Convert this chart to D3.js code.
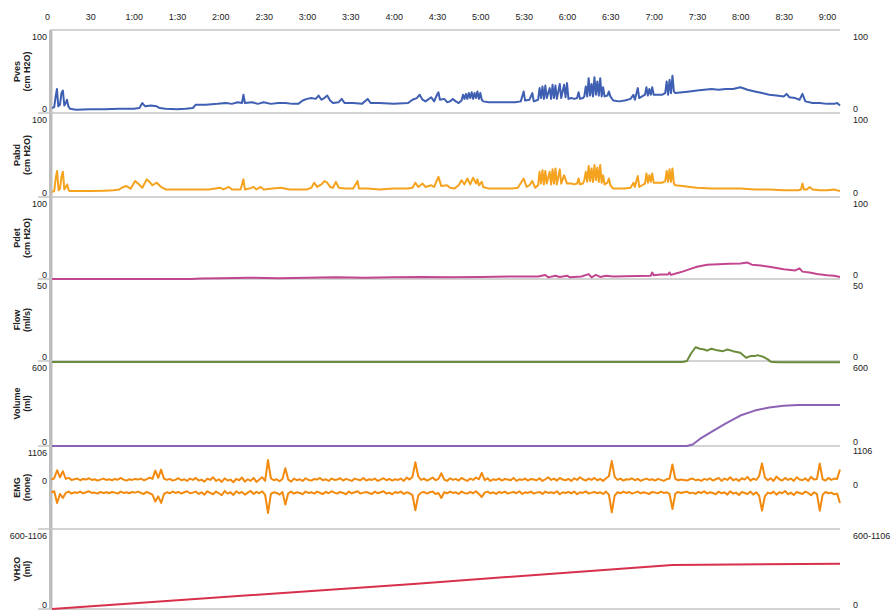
<!DOCTYPE html>
<html>
<head>
<meta charset="utf-8">
<script src="https://cdn.jsdelivr.net/npm/d3@7"></script>
<style>
body { margin: 0; background: #fff; }
text { font-family: "Liberation Sans", Arial, sans-serif; font-size: 9px; fill: #222; }
.title { font-weight: bold; }
</style>
</head>
<body>
<svg></svg>
<script>
// 时间轴 (秒)
var timeTicks = [0, 30, 60, 90, 120, 150, 180, 210, 240, 270, 300, 330, 360, 390, 420, 450, 480, 510, 540]
var tickLabels = ["0", "30", "1:00", "1:30", "2:00", "2:30", "3:00", "3:30", "4:00", "4:30", "5:00", "5:30", "6:00", "6:30", "7:00", "7:30", "8:00", "8:30", "9:00"]

// 通道
var names = ["Pves", "Pabd", "Pdet", "Flow", "Volume", "EMG", "VH2O"]
var units = ["(cm H2O)", "(cm H2O)", "(cm H2O)", "(ml/s)", "(ml)", "(none)", "(ml)"]
var topLabels = ["100", "100", "100", "50", "600", "1106", "600-1106"]
var bottomLabels = ["0", "0", "0", "0", "0", "0", "0"]

// [时间, 数值]
var pves = [[3.5,6],[5,7],[6,20],[6.9,29],[7.8,8],[9,10],[10,24],[11,27],[12,9],[13,12],[13.8,16],[14.8,8],[16,5],[20,4],[30,4.5],[40,4.5],[50,5],[60,5],[64,6],[66,12],[68,8],[72,9],[76,8],[78,6],[82,5],[90,4.5],[96,5],[101,6],[103,10],[110,10],[118,11],[124,12],[128,11],[132,13],[135,12],[136,22],[137,12],[142,13],[146,11],[150,13],[155,11],[160,12],[165,12],[170,11],[174,11],[177,15],[180,17],[183,18],[186,17],[188,21],[190,16],[192,18],[194,21],[196,15],[198,12],[202,13],[204,17],[206,12],[212,12],[218,11],[222,17],[224,12],[230,12],[240,11],[250,12],[253,16],[256,18],[258,22],[260,16],[262,14],[266,19],[268,14],[270,22],[271,25],[272,16],[275,17],[277,13],[279,14],[281,17],[283,14],[285,12],[287,15],[288,22],[289,17],[290,23],[291,17],[292,24],[293,18],[294,25],[295,17],[296,24],[297,18],[298,26],[299,17],[300,24],[301,16],[302,14],[306,13],[312,13],[318,13],[324,13],[328,14],[330,26],[331,15],[334,16],[336,24],[337,14],[340,16],[341,30],[342,18],[343,32],[344,17],[345,33],[346,18],[348,30],[349,17],[350,34],[351,18],[352,33],[353,17],[355,35],[356,18],[358,34],[359,19],[360,36],[361,17],[363,18],[365,17],[367,18],[368,25],[369,17],[371,18],[372,20],[373,32],[374,20],[375,42],[376,21],[377,35],[378,20],[379,43],[380,22],[381,38],[382,21],[383,42],[384,20],[385,31],[386,20],[388,21],[389,26],[390,20],[392,15],[396,14],[400,15],[404,17],[406,22],[407,16],[408,23],[409,30],[410,18],[412,20],[414,22],[415,31],[416,21],[417,29],[418,22],[419,31],[420,22],[423,22],[426,22],[428,24],[429,38],[430,22],[431,40],[432,24],[433,45],[434,26],[435,24],[440,25],[445,26],[450,27],[455,28],[460,29],[465,28],[470,29],[475,29],[480,31],[485,28],[490,26],[495,24],[500,22],[505,21],[510,20],[512,23],[514,19],[518,18],[521,16],[523,23],[525,14],[530,12],[535,12],[540,11],[545,11],[547,12],[549,9]]

var pabd = [[3.5,6],[5,7],[6,22],[7,31],[8,8],[9,10],[10,24],[11,30],[12,9],[13,12],[14,15],[15,8],[16,7],[30,7],[40,7.5],[46,8],[50,9],[53,12],[55,13],[58,10],[61,19],[63,16],[66,11],[69,21],[71,18],[73,14],[76,17],[79,12],[82,9],[90,9],[100,9],[106,9],[112,9],[120,11],[122,9],[126,12],[128,9],[134,9],[136,21],[137,9],[140,10],[143,12],[145,9],[148,12],[150,9],[156,10],[162,11],[168,9],[175,9],[180,9],[183,11],[185,17],[187,12],[190,15],[192,19],[194,17],[196,12],[198,11],[200,18],[202,11],[206,10],[212,10],[215,19],[216,10],[222,10],[230,9],[240,10],[250,10],[253,11],[255,17],[257,12],[260,16],[262,12],[266,14],[268,12],[271,24],[273,13],[277,14],[279,11],[282,10],[285,14],[287,20],[289,15],[291,22],[293,15],[295,23],[297,16],[298,21],[299,14],[301,18],[302,12],[306,10],[316,10],[322,10],[326,11],[330,22],[332,12],[334,14],[336,19],[338,11],[340,14],[341,30],[342,16],[343,32],[344,15],[345,31],[346,16],[348,30],[349,15],[350,33],[351,16],[352,34],[353,15],[355,33],[356,16],[358,26],[360,16],[363,16],[365,15],[367,16],[368,22],[369,15],[371,16],[372,20],[373,30],[374,18],[375,37],[376,19],[377,34],[378,18],[379,38],[380,20],[381,35],[382,18],[383,38],[384,17],[385,26],[386,15],[388,17],[389,22],[390,14],[392,10],[396,10],[400,10],[404,11],[406,17],[407,12],[408,19],[409,25],[410,12],[412,14],[414,16],[415,28],[416,17],[417,26],[418,18],[419,28],[420,17],[423,17],[426,17],[428,19],[429,31],[430,18],[431,33],[432,18],[433,34],[434,16],[435,14],[440,13],[445,12],[450,11],[460,10],[470,10],[480,10],[490,9],[500,9],[510,8],[520,8],[522,9],[523,16],[524,9],[526,9],[528,12],[530,9],[535,8],[540,8],[545,9],[549,7]]

var pdet = [[3.5,0],[50,0],[100,0],[106,0.5],[120,1],[140,1.5],[160,1],[180,1.5],[200,2],[220,1.5],[240,2],[260,2.5],[280,2],[300,2.5],[320,3],[340,3],[345,5],[347,2],[352,4],[355,2.5],[360,4],[362,2],[370,3],[375,6],[377,2],[380,5],[383,2.5],[387,4],[392,3],[400,3.5],[418,4],[419,8],[420,4.5],[425,5.5],[430,5.5],[431,8],[432,5],[436,7],[440,9],[445,12],[450,15],[457,17.5],[465,18],[472,18.5],[480,19],[485,20],[488,17.5],[494,16.5],[500,15],[510,12],[518,10.5],[521,13],[523,9],[528,8],[533,6],[540,4.5],[545,4],[549,2.5]]

var flow = [[3.5,-0.6],[440,-0.6],[443,0],[446,4.7],[449,8.4],[452,7.5],[455,7],[457,6.3],[460,7.5],[464,6.5],[468,6],[471,7],[475,6],[480,5],[484,2],[487,3],[490,3],[492,3.6],[494,3],[496,2.5],[499,1],[501,-0.4],[506,-0.8],[549,-0.8]]

var volume = [[3.5,0],[443,0],[447,10],[452,50],[460,100],[470,160],[480,215],[490,250],[500,272],[510,284],[520,290],[549,290]]

var vh2o = [[3.5,0],[256,190],[433,330],[549,340]]

// EMG: 每2秒一个点, 从3秒开始
var emgHigh = [100,140,380,170,350,120,150,90,110,130,
80,120,100,140,90,110,70,100,130,90,
110,80,120,95,150,100,70,110,90,120,
100,130,80,110,160,120,370,150,400,130,
90,120,70,100,140,80,110,60,130,90,
150,70,100,40,130,90,170,60,110,30,
140,70,100,20,120,80,160,40,110,60,
150,30,100,170,60,685,140,80,110,50,
120,440,100,40,130,80,110,60,140,90,
70,120,100,150,80,110,60,130,90,100,
140,70,120,90,60,130,100,80,150,70,
110,90,130,60,100,140,80,120,70,110,
90,130,60,160,100,180,620,200,90,130,
70,110,160,80,120,290,100,60,140,90,
120,70,150,100,60,130,90,160,110,300,
80,140,60,110,90,130,70,120,100,80,
150,60,110,90,130,70,120,100,80,140,
60,110,170,90,130,70,150,100,80,120,
60,140,90,170,110,70,130,90,150,80,
120,60,140,200,655,180,90,130,70,110,
100,140,80,120,60,100,130,90,110,70,
120,90,60,110,130,550,120,80,100,90,
70,110,130,80,100,60,120,90,140,70,
110,150,60,130,90,170,80,120,60,140,
100,180,70,130,90,200,580,160,80,140,
60,190,110,70,150,90,130,60,170,100,
80,140,60,180,100,120,580,110,70,150,
90,130,120,400]
var emgLow = [-280,-250,-600,-330,-450,-300,-260,-320,-280,-300,
-260,-310,-280,-250,-300,-290,-320,-270,-300,-280,
-310,-270,-290,-320,-260,-300,-280,-310,-270,-290,
-260,-300,-330,-270,-310,-350,-560,-400,-600,-330,
-280,-310,-260,-300,-270,-320,-280,-250,-310,-290,
-260,-330,-280,-350,-250,-300,-340,-260,-310,-370,
-240,-320,-280,-360,-250,-310,-270,-350,-290,-240,
-330,-270,-310,-250,-360,-900,-330,-280,-300,-350,
-270,-650,-310,-260,-320,-280,-300,-340,-260,-300,
-280,-320,-260,-300,-330,-270,-310,-250,-290,-320,
-270,-300,-340,-260,-310,-280,-250,-320,-290,-270,
-300,-330,-260,-310,-280,-250,-320,-290,-340,-270,
-300,-260,-330,-280,-310,-360,-820,-380,-290,-270,
-320,-280,-260,-330,-300,-450,-280,-310,-260,-300,
-280,-330,-260,-300,-320,-270,-310,-250,-330,-420,
-290,-260,-310,-280,-330,-270,-300,-260,-320,-290,
-270,-310,-250,-330,-280,-300,-260,-320,-290,-270,
-330,-260,-300,-280,-310,-250,-340,-280,-300,-270,
-310,-260,-340,-280,-300,-250,-320,-290,-270,-310,
-280,-330,-260,-350,-880,-380,-280,-310,-260,-300,
-270,-320,-290,-260,-310,-280,-300,-330,-270,-290,
-310,-260,-300,-280,-330,-780,-320,-270,-300,-280,
-260,-310,-290,-330,-270,-300,-250,-320,-280,-300,
-340,-260,-310,-280,-350,-250,-320,-290,-360,-270,
-300,-330,-260,-350,-280,-380,-830,-400,-290,-320,
-260,-350,-280,-310,-240,-340,-290,-360,-270,-300,
-330,-260,-300,-370,-280,-330,-830,-350,-270,-310,
-290,-340,-320,-600]

var colors = ["#3f5fb3", "#f5a21f", "#c2468f", "#6b8c3a", "#8c63b4", "#f28a0f", "#d8304c"]

var svg = d3.select('svg')
.attr('width', 892)
.attr('height', 610)

// 面板边界
var bounds = [30, 113, 197, 279, 361, 446, 529, 609]

const x = d3.scaleLinear()
.domain([0, 549])
.range([47, 840]);

// 每个面板的y比例尺
var domains = [[0, 100], [0, 100], [0, 100], [0, 50], [0, 600], [-1380, 1106], [0, 600]]
var yScales = domains.map((d, i) => d3.scaleLinear().domain(d).range([bounds[i + 1], bounds[i]]))

// 顶部时间轴
const xAxis = d3.axisTop(x)
.tickValues(timeTicks)
.tickFormat((d, i) => tickLabels[i])
.tickSize(0)
.tickPadding(3);

svg.append('g')
.attr('transform', 'translate(0,23)')
.call(xAxis)
.call(g => g.select('.domain').remove())
.selectAll('text')
.attr('font-size', 9)
.attr('font-family', '"Liberation Sans", Arial, sans-serif')
.attr('fill', '#222');

// 左边灰色竖条
svg.append('rect')
.attr('x', 49)
.attr('y', bounds[0])
.attr('width', 3.5)
.attr('height', bounds[7] - bounds[0])
.attr('fill', '#bdbdbd');

// 横线
bounds.forEach((b, i) => {
  svg.append('line')
  .attr('x1', i == 0 ? 50 : 38)
  .attr('x2', 840)
  .attr('y1', b)
  .attr('y2', b)
  .attr('stroke', '#c4c4c4')
  .attr('stroke-width', 1.6);
});

// 标签
names.forEach((name, i) => {
  var y = yScales[i]
  var top = bounds[i], bottom = bounds[i + 1]
  var cy = (top + bottom) / 2
  var zeroY = i == 5 ? y(0) + 1.5 : bottom - 1.5
  var zeroYr = i == 5 ? y(0) + 5.5 : bottom - 1.5
  svg.append('text').attr('x', 47).attr('y', top + 9.5).attr('text-anchor', 'end').text(topLabels[i]);
  svg.append('text').attr('x', 47).attr('y', zeroY).attr('text-anchor', 'end').text(bottomLabels[i]);
  svg.append('text').attr('x', 853).attr('y', top + (i == 5 ? 7.5 : 9.5)).text(topLabels[i]);
  svg.append('text').attr('x', 853).attr('y', zeroYr).text(bottomLabels[i]);
  svg.append('text')
  .attr('class', 'title')
  .attr('transform', `translate(19.5,${cy}) rotate(-90)`)
  .attr('text-anchor', 'middle')
  .text(name);
  svg.append('text')
  .attr('class', 'title')
  .attr('transform', `translate(29.5,${cy}) rotate(-90)`)
  .attr('text-anchor', 'middle')
  .text(units[i]);
});

// 画线
var series = [pves, pabd, pdet, flow, volume, null, vh2o]
series.forEach((s, i) => {
  if (!s) return;
  var line = d3.line()
  .x(d => x(d[0]))
  .y(d => yScales[i](d[1]));
  svg.append('path')
  .datum(s)
  .attr('d', line)
  .attr('fill', 'none')
  .attr('stroke', colors[i])
  .attr('stroke-width', 2)
  .attr('stroke-linejoin', 'round');
});

// EMG 两条
var emgLine = d3.line()
.x((d, i) => x(3 + 2 * i))
.y(d => yScales[5](d));
[emgHigh, emgLow].forEach(s => {
  svg.append('path')
  .datum(s)
  .attr('d', emgLine)
  .attr('fill', 'none')
  .attr('stroke', colors[5])
  .attr('stroke-width', 2)
  .attr('stroke-linejoin', 'round');
});
</script>
</body>
</html>
